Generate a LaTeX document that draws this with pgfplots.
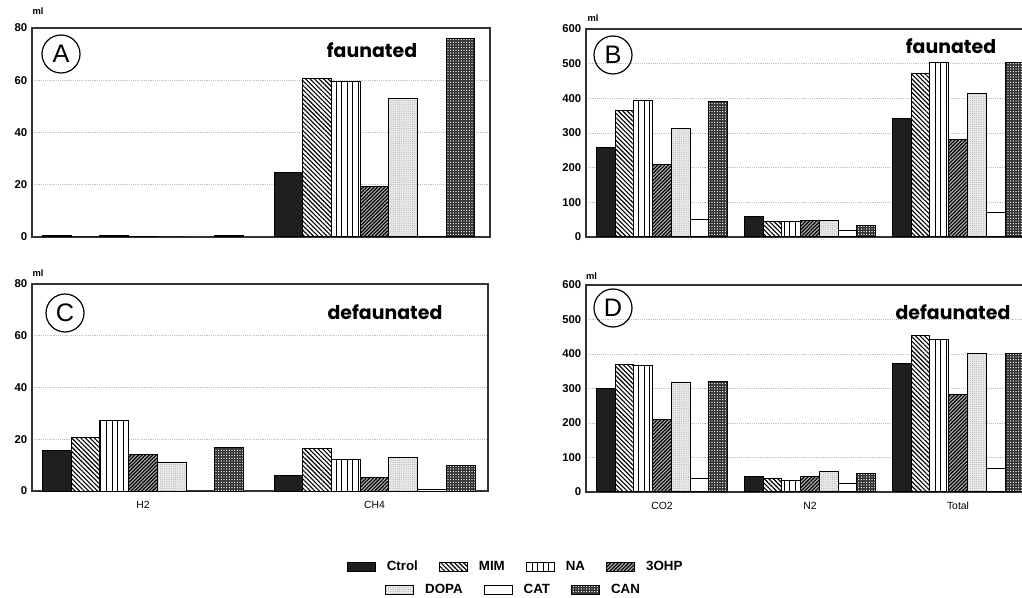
\documentclass[border=0pt]{standalone}
\usepackage{fontspec}
\setmainfont{Liberation Sans}
\newfontfamily\geo{Poppins}
\usepackage{pgfplots}
\pgfplotsset{compat=1.18}
\usepackage{pgfplotstable}
\usetikzlibrary{patterns.meta}

\pgfplotstableread{
x Ctrol MIM NA OHP DOPA CAT CAN
0 0.5 0 0.6 0.2 0 0 0.4
1 24.5 60.5 59.5 19.5 53 0.3 76
}\tabA
\pgfplotstableread{
x Ctrol MIM NA OHP DOPA CAT CAN
0 257 364 395 210 312 50 390
1 58 45 45 48 48 18 34
2 341 471 502 281 413 72 503
}\tabB
\pgfplotstableread{
x Ctrol MIM NA OHP DOPA CAT CAN
0 15.7 20.5 27.4 14.2 11 0 16.8
1 6.1 16.6 12.3 5.3 12.9 0.5 9.9
}\tabC
\pgfplotstableread{
x Ctrol MIM NA OHP DOPA CAT CAN
0 299 371 368 211 318 39 320
1 45 40 32 45 58 24 53
2 373 453 443 284 402 67 402
}\tabD

\tikzset{
 sCtrol/.style={draw=black, line width=0.75pt, fill=black!88},
 sMIM/.style={draw=black, line width=0.75pt, fill=white, postaction={pattern={Lines[angle=-45,distance=2.4pt,line width=0.85pt]}}},
 sNA/.style={draw=black, line width=0.75pt, fill=white, postaction={pattern={Lines[angle=90,distance=4.2pt,line width=0.75pt]}}},
 sOHP/.style={draw=black, line width=0.75pt, fill=black!30, postaction={pattern={Lines[angle=45,distance=1.9pt,line width=0.9pt]}}},
 sDOPA/.style={draw=black, line width=0.75pt, fill=black!8, postaction={pattern={Dots[distance=1.4pt,radius=0.3pt]}, pattern color=black!40}},
 sCAT/.style={draw=black, line width=0.75pt, fill=white},
 sCAN/.style={draw=black, line width=0.75pt, fill=black!82, postaction={pattern={Dots[distance=2pt,radius=0.55pt]}, pattern color=white}},
}

\pgfplotsset{
 panel/.style={
  scale only axis,
  anchor=south west,
  axis line style={black!80, line width=0.9pt},
  major tick length=0pt,
  ymin=0,
  ymajorgrids,
  grid style={densely dotted, black!25, line width=0.5pt},
  /pgf/number format/assume math mode=true,
  tick label style={font=\fontsize{8.5}{9}\selectfont\bfseries},
  xticklabel style={font=\fontsize{7.8}{8}\selectfont\mdseries, yshift=-4pt},
  xtick={0,1,2},
 },
 leg/.style={at={(0pt,0pt)}, anchor=south west, width=766.5pt, height=447.75pt,
  scale only axis, hide axis, xmin=0, xmax=1, ymin=0, ymax=1,
  legend image code/.code={\draw[##1] (0pt,-3.6pt) rectangle (21pt,3.6pt);}},
}

\newcommand{\sevenbars}[4]{%
 \addplot[ybar, sCtrol, bar shift=-#4] table[x=x,y=Ctrol]{#1};
 \addplot[ybar, sMIM, bar shift=-#3] table[x=x,y=MIM]{#1};
 \addplot[ybar, sNA, bar shift=-#2] table[x=x,y=NA]{#1};
 \addplot[ybar, sOHP, bar shift=0] table[x=x,y=OHP]{#1};
 \addplot[ybar, sDOPA, bar shift=#2] table[x=x,y=DOPA]{#1};
 \addplot[ybar, sCAT, bar shift=#3] table[x=x,y=CAT]{#1};
 \addplot[ybar, sCAN, bar shift=#4] table[x=x,y=CAN]{#1};
}

\begin{document}
\begin{tikzpicture}
% Panel A
\begin{axis}[panel, at={(24pt,270pt)}, width=343.5pt, height=156.75pt,
  xmin=-0.4795, xmax=1.499, ymax=80, ytick={0,20,40,60,80},
  xticklabels={}, bar width=0.124]
\sevenbars{\tabA}{0.124}{0.248}{0.372}
\end{axis}
% Panel B
\begin{axis}[panel, at={(439.5pt,270pt)}, width=336pt, height=156pt,
  xmin=-0.5135, xmax=2.5135, ymax=600, ytick={0,100,...,600},
  xticklabels={}, bar width=0.127]
\sevenbars{\tabB}{0.127}{0.254}{0.381}
\end{axis}
% Panel C
\begin{axis}[panel, at={(24pt,79.5pt)}, width=342pt, height=155.25pt,
  xmin=-0.4795, xmax=1.490, ymax=80, ytick={0,20,40,60,80},
  xticklabels={H2,CH4}, bar width=0.124]
\sevenbars{\tabC}{0.124}{0.248}{0.372}
\end{axis}
% Panel D
\begin{axis}[panel, at={(439.5pt,78.75pt)}, width=336pt, height=155.25pt,
  xmin=-0.5135, xmax=2.5135, ymax=600, ytick={0,100,...,600},
  xticklabels={CO2,N2,Total}, bar width=0.127]
\sevenbars{\tabD}{0.127}{0.254}{0.381}
\end{axis}
% Legend row 1
\begin{axis}[leg,
  legend columns=4,
  legend style={at={(0.505,0.0503)}, anchor=center, draw=none, fill=none,
    font=\fontsize{10}{10}\selectfont\bfseries,
    /tikz/every odd column/.append style={column sep=6pt},
    /tikz/every even column/.append style={column sep=14pt}}]
\addlegendimage{sCtrol}\addlegendentry{Ctrol}
\addlegendimage{sMIM}\addlegendentry{MIM}
\addlegendimage{sNA}\addlegendentry{NA}
\addlegendimage{sOHP}\addlegendentry{3OHP}
\end{axis}
% Legend row 2
\begin{axis}[leg,
  legend columns=3,
  legend style={at={(0.503,0.012)}, anchor=center, draw=none, fill=none,
    font=\fontsize{10}{10}\selectfont\bfseries,
    /tikz/every odd column/.append style={column sep=6pt},
    /tikz/every even column/.append style={column sep=14pt}}]
\addlegendimage{sDOPA}\addlegendentry{DOPA}
\addlegendimage{sCAT}\addlegendentry{CAT}
\addlegendimage{sCAN}\addlegendentry{CAN}
\end{axis}

% Panel letters
\tikzset{pl/.style={circle, draw, line width=0.9pt, minimum size=28.5pt, inner sep=0pt, font=\fontsize{19}{19}\selectfont}}
\node[pl] at (45.75pt,407.25pt) {A};
\node[pl] at (459.75pt,406.5pt) {B};
\node[pl] at (48.75pt,213pt) {C};
\node[pl] at (459.75pt,216.75pt) {D};
% titles
\tikzset{tt/.style={anchor=base, font=\geo\fontsize{14.2}{14}\selectfont\bfseries, inner sep=0pt}}
\node[tt] at (279pt,404.25pt) {faunated};
\node[tt] at (713.25pt,407.25pt) {faunated};
\node[tt] at (288.75pt,208.25pt) {defaunated};
\node[tt] at (714.75pt,208pt) {defaunated};
% ml labels
\tikzset{ml/.style={font=\fontsize{7}{7}\selectfont\bfseries, inner sep=0pt}}
\node[ml] at (28.5pt,439.5pt) {ml};
\node[ml] at (444.75pt,434.25pt) {ml};
\node[ml] at (28.5pt,242.6pt) {ml};
\node[ml] at (443.6pt,240.4pt) {ml};

\pgfresetboundingbox
\useasboundingbox (0pt,0pt) rectangle (766.5pt,447.75pt);
\end{tikzpicture}
\end{document}
